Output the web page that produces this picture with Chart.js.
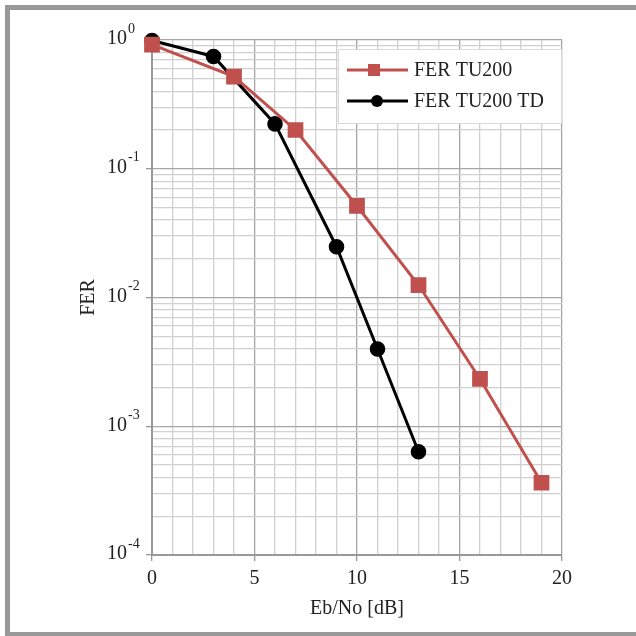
<!DOCTYPE html>
<html>
<head>
    <title>FER vs Eb/No</title>
    <script src="https://cdn.jsdelivr.net/npm/chart.js"></script>
    <style>
        body { margin: 0; background: #fff; }
        #wrap { width: 636px; height: 636px; }
    </style>
</head>
<body>
    <div id="wrap"><canvas id="fer"></canvas></div>

    <script>
        const ebnoTU200 = [0, 4, 7, 10, 13, 16, 19];
        const ferTU200 = [0.92, 0.52, 0.2, 0.0514, 0.0125, 0.00233, 0.000364];
        const ebnoTD = [0, 3, 6, 9, 11, 13];
        const ferTD = [0.99, 0.745, 0.223, 0.0248, 0.00398, 0.000634];
        const seriesNames = ['FER TU200', 'FER TU200 TD'];
        const seriesColors = ['#c0504d', '#000000'];
        const xTickLabels = [0, 5, 10, 15, 20];
        const yDecades = [1, 0.1, 0.01, 0.001, 0.0001];
        const yExponents = ['0', '-1', '-2', '-3', '-4'];

        const FONT = 'Liberation Serif';
        const TEXT = '#222222';

        // every 1..9 x 10^k line for the log grid, decades flagged major
        function logTicks() {
            const out = [];
            for (let e = -4; e <= 0; e++) {
                for (let m = 1; m <= 9; m++) {
                    const v = m * Math.pow(10, e);
                    if (v > 1.0000001) break;
                    out.push({ value: v, major: m === 1 });
                }
            }
            return out;
        }

        const decorations = {
            id: 'decorations',
            afterDraw(chart) {
                const ctx = chart.ctx;
                const y = chart.scales.y;
                ctx.save();

                // frame of the figure (top, left, bottom)
                ctx.fillStyle = '#999999';
                ctx.fillRect(5, 5, 631, 5);
                ctx.fillRect(5, 5, 5, 631);
                ctx.fillRect(5, 632, 631, 4);

                // y tick labels as 10 with a raised exponent
                ctx.fillStyle = TEXT;
                yDecades.forEach((v, i) => {
                    const py = y.getPixelForValue(v);
                    ctx.font = '20px ' + FONT;
                    ctx.textAlign = 'right';
                    ctx.textBaseline = 'middle';
                    ctx.fillText('10', 127, py - 1);
                    ctx.font = '14px ' + FONT;
                    ctx.textAlign = 'left';
                    ctx.fillText(yExponents[i], 128, py - 11);
                });

                // legend box inside the plot, top right
                const lx = 338, ly = 49, lw = 223, lh = 74;
                ctx.fillStyle = '#ffffff';
                ctx.fillRect(lx, ly, lw, lh);
                ctx.strokeStyle = '#d9d9d9';
                ctx.lineWidth = 1;
                ctx.strokeRect(lx + 0.5, ly + 0.5, lw, lh);

                chart.data.datasets.forEach((ds, i) => {
                    const cy = 70 + i * 31;
                    ctx.strokeStyle = ds.borderColor;
                    ctx.lineWidth = 3;
                    ctx.beginPath();
                    ctx.moveTo(347, cy);
                    ctx.lineTo(408, cy);
                    ctx.stroke();
                    ctx.fillStyle = ds.backgroundColor;
                    if (ds.pointStyle === 'rect') {
                        ctx.fillRect(368, cy - 6, 12, 12);
                    } else {
                        ctx.beginPath();
                        ctx.arc(377, cy, 6, 0, Math.PI * 2);
                        ctx.fill();
                    }
                    ctx.fillStyle = TEXT;
                    ctx.font = '20px ' + FONT;
                    ctx.textAlign = 'left';
                    ctx.textBaseline = 'middle';
                    ctx.fillText(ds.label, 414, cy + 1);
                });

                ctx.restore();
            }
        };

        const ctx = document.getElementById('fer').getContext('2d');
        new Chart(ctx, {
            type: 'line',
            data: {
                datasets: [{
                    label: seriesNames[0],
                    data: ebnoTU200.map((x, i) => ({ x: x, y: ferTU200[i] })),
                    borderColor: seriesColors[0],
                    backgroundColor: seriesColors[0],
                    borderWidth: 3,
                    pointStyle: 'rect',
                    pointRadius: 9,
                    pointHoverRadius: 9,
                    clip: false
                }, {
                    label: seriesNames[1],
                    data: ebnoTD.map((x, i) => ({ x: x, y: ferTD[i] })),
                    borderColor: seriesColors[1],
                    backgroundColor: seriesColors[1],
                    borderWidth: 3,
                    pointStyle: 'circle',
                    pointRadius: 6.3,
                    pointHoverRadius: 6.3,
                    clip: false
                }]
            },
            options: {
                responsive: true,
                maintainAspectRatio: false,
                animation: false,
                layout: { padding: { left: 0, top: 40, right: 74, bottom: 0 } },
                plugins: {
                    legend: { display: false },
                    tooltip: { enabled: false }
                },
                scales: {
                    x: {
                        type: 'linear',
                        min: 0,
                        max: 20,
                        afterFit(scale) { scale.height = 81; },
                        ticks: {
                            stepSize: 1,
                            autoSkip: false,
                            maxRotation: 0,
                            padding: 6,
                            color: TEXT,
                            font: { family: FONT, size: 20 },
                            callback: v => xTickLabels.includes(v) ? String(v) : ''
                        },
                        grid: {
                            color: c => (c.tick && c.tick.value % 5 === 0) ? '#a6a6a6' : '#d0d0d0',
                            lineWidth: 1.3,
                            tickLength: 6,
                            tickColor: c => (c.tick && c.tick.value % 5 === 0) ? '#999999' : 'rgba(0,0,0,0)'
                        },
                        border: { color: '#999999', width: 2 },
                        title: {
                            display: true,
                            text: 'Eb/No [dB]',
                            color: TEXT,
                            font: { family: FONT, size: 20 },
                            padding: { top: 0, bottom: 15 }
                        }
                    },
                    y: {
                        type: 'logarithmic',
                        min: 0.0001,
                        max: 1,
                        afterFit(scale) { scale.width = 152; },
                        afterBuildTicks(scale) { scale.ticks = logTicks(); },
                        ticks: {
                            autoSkip: false,
                            callback: () => ''
                        },
                        grid: {
                            color: c => (c.tick && c.tick.major) ? '#a6a6a6' : '#d0d0d0',
                            lineWidth: 1.3,
                            tickLength: 6,
                            tickColor: c => (c.tick && c.tick.major) ? '#999999' : 'rgba(0,0,0,0)'
                        },
                        border: { color: '#999999', width: 2 },
                        title: {
                            display: true,
                            text: 'FER',
                            color: TEXT,
                            font: { family: FONT, size: 20 },
                            padding: { top: 77, bottom: 0 }
                        }
                    }
                }
            },
            plugins: [decorations]
        });
    </script>
</body>
</html>
